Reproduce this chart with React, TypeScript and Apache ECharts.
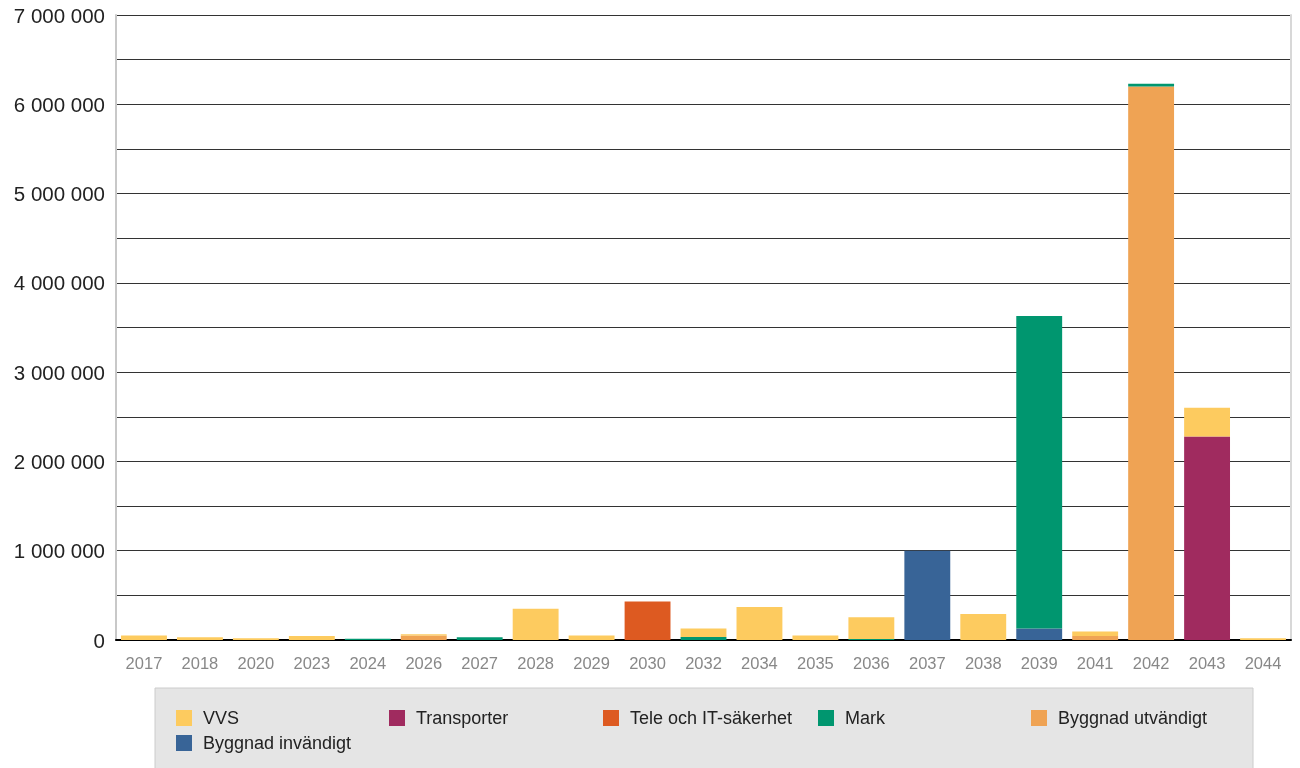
import React, { useEffect, useRef } from "react";
import * as echarts from "echarts";

const categories = ["2017", "2018", "2020", "2023", "2024", "2026", "2027", "2028", "2029", "2030", "2032", "2034", "2035", "2036", "2037", "2038", "2039", "2041", "2042", "2043", "2044"];

const vvs = [50000, 30000, 20000, 45000, 0, 15000, 0, 350000, 50000, 0, 95000, 370000, 50000, 245000, 0, 290000, 0, 50000, 0, 320000, 20000];
const transporter = [0, 0, 0, 0, 0, 0, 0, 0, 0, 0, 0, 0, 0, 0, 0, 0, 0, 0, 0, 2280000, 0];
const tele = [0, 0, 0, 0, 0, 0, 0, 0, 0, 430000, 0, 0, 0, 0, 0, 0, 0, 0, 0, 0, 0];
const mark = [0, 0, 0, 0, 15000, 0, 30000, 0, 0, 0, 35000, 0, 0, 10000, 0, 0, 3500000, 0, 30000, 0, 0];
const utvandigt = [0, 0, 0, 0, 0, 50000, 0, 0, 0, 0, 0, 0, 0, 0, 0, 0, 0, 45000, 6200000, 0, 0];
const invandigt = [0, 0, 0, 0, 0, 0, 0, 0, 0, 0, 0, 0, 0, 0, 1000000, 0, 130000, 0, 0, 0, 0];

const seriesNames = ["VVS", "Transporter", "Tele och IT-säkerhet", "Mark", "Byggnad utvändigt", "Byggnad invändigt"];
const seriesData = [vvs, transporter, tele, mark, utvandigt, invandigt];
const colors = ["#FDCB5F", "#A02B5F", "#DD5A21", "#00966F", "#EFA354", "#386497"];

const legendPos = [
  [176, 709],
  [389, 709],
  [603, 709],
  [818, 709],
  [1031, 709],
  [176, 734],
];

const FONT = "'Liberation Sans', Arial, sans-serif";

function fmt(v: number) {
  return String(v).replace(/\B(?=(\d{3})+(?!\d))/g, " ");
}

export default function App() {
  const ref = useRef<HTMLDivElement>(null);
  useEffect(() => {
    if (!ref.current) return;
    const chart = echarts.init(ref.current, undefined, { renderer: "svg" });
    // stack order bottom-to-top is reverse of legend order
    const order = [5, 4, 3, 2, 1, 0];
    chart.setOption({
      animation: false,
      color: colors,
      graphic: [
        {
          type: "rect",
          shape: { x: 155, y: 688, width: 1098, height: 90 },
          style: { fill: "#e5e5e5", stroke: "#cccccc", lineWidth: 1 },
          z: -10,
        },
      ],
      legend: seriesNames.map((n, i) => ({
        left: legendPos[i][0],
        top: legendPos[i][1],
        data: [n],
        icon: "rect",
        itemWidth: 16,
        itemHeight: 16,
        padding: 0,
        selectedMode: false,
        textStyle: { fontFamily: FONT, fontSize: 18, color: "#222", padding: [0, 0, 0, 6] },
      })),
      grid: { left: 116, right: 9, top: 15, bottom: 128, containLabel: false },
      xAxis: {
        type: "category",
        data: categories,
        axisLine: { show: true, lineStyle: { color: "#000", width: 2 } },
        axisTick: { show: false },
        axisLabel: { color: "#888", fontSize: 16.5, fontFamily: FONT, margin: 14 },
      },
      yAxis: [
        {
          type: "value",
          min: 0,
          max: 7000000,
          interval: 500000,
          axisLine: { show: true, lineStyle: { color: "#c8c8c8", width: 2 } },
          axisTick: { show: false },
          axisLabel: {
            color: "#222",
            fontSize: 20.5,
            fontFamily: FONT,
            margin: 11,
            formatter: (v: number) => (v % 1000000 === 0 ? fmt(v) : ""),
          },
          splitLine: { show: true, lineStyle: { color: "#333", width: 1 } },
        },
        {
          type: "value",
          position: "right",
          min: 0,
          max: 7000000,
          interval: 500000,
          axisLine: { show: true, lineStyle: { color: "#d8d8d8", width: 2 } },
          axisTick: { show: false },
          axisLabel: { show: false },
          splitLine: { show: false },
        },
      ],
      series: order.map((i) => ({
        name: seriesNames[i],
        type: "bar",
        stack: "total",
        yAxisIndex: 0,
        barCategoryGap: "18%",
        itemStyle: { color: colors[i] },
        data: seriesData[i],
      })),
    });
    return () => chart.dispose();
  }, []);
  return <div ref={ref} style={{ position: "fixed", left: 0, top: 0, width: 1300, height: 768 }} />;
}
